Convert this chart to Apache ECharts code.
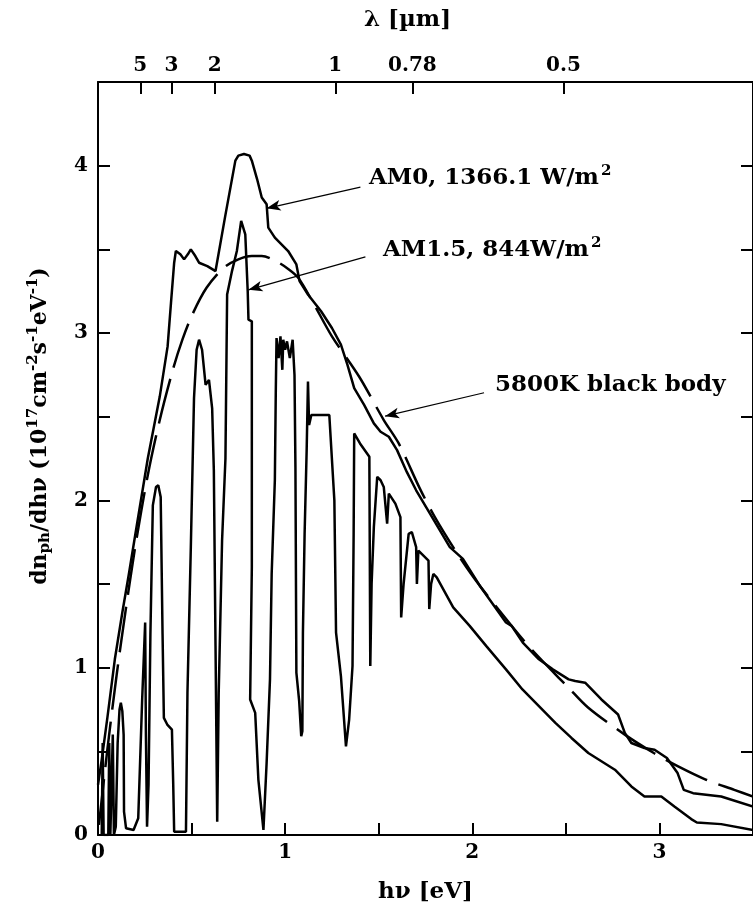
<!DOCTYPE html>
<html>
<head>
<meta charset="utf-8">
<script src="https://cdn.jsdelivr.net/npm/echarts@6.0.0/dist/echarts.min.js"></script>
<style>
html,body{margin:0;padding:0;background:#fff;}
#c{width:753px;height:909px;}
</style>
</head>
<body>
<div id="c"></div>
<script>
// ---- data (photon flux, 10^17 cm^-2 s^-1 eV^-1, vs photon energy in eV) ----
const am0E = [0,0.02,0.05,0.09,0.13,0.165,0.2,0.266,0.33,0.372,0.39,0.407,0.416,0.44,0.46,0.48,0.496,0.52,0.54,0.584,0.628,0.68,0.734,0.75,0.78,0.81,0.822,0.85,0.875,0.901,0.91,0.945,1.016,1.06,1.077,1.122,1.192,1.25,1.298,1.333,1.369,1.422,1.474,1.51,1.554,1.598,1.65,1.70,1.774,1.88,1.95,2.04,2.18,2.21,2.27,2.356,2.43,2.515,2.55,2.603,2.69,2.779,2.815,2.85,2.92,2.974,3.04,3.097,3.13,3.18,3.33,3.5];
const am0V = [0.30,0.45,0.70,1.05,1.33,1.56,1.80,2.25,2.62,2.92,3.18,3.42,3.49,3.47,3.44,3.47,3.50,3.46,3.42,3.40,3.37,3.70,4.03,4.06,4.07,4.06,4.03,3.92,3.81,3.77,3.63,3.57,3.49,3.41,3.31,3.23,3.13,3.03,2.93,2.81,2.67,2.57,2.46,2.41,2.38,2.30,2.17,2.06,1.92,1.72,1.65,1.49,1.27,1.25,1.15,1.05,0.99,0.93,0.92,0.91,0.81,0.72,0.61,0.55,0.52,0.51,0.46,0.37,0.27,0.25,0.23,0.17];

const am15E = [0.02,0.025,0.03,0.055,0.06,0.066,0.075,0.079,0.085,0.095,0.105,0.115,0.122,0.13,0.137,0.139,0.15,0.157,0.19,0.215,0.236,0.252,0.256,0.262,0.27,0.28,0.293,0.31,0.322,0.335,0.345,0.352,0.37,0.395,0.402,0.407,0.47,0.478,0.496,0.513,0.527,0.54,0.556,0.566,0.575,0.593,0.61,0.619,0.628,0.637,0.645,0.663,0.681,0.69,0.716,0.742,0.765,0.787,0.8,0.804,0.822,0.822,0.813,0.84,0.857,0.884,0.901,0.919,0.928,0.945,0.95,0.954,0.965,0.975,0.985,0.99,1.0,1.01,1.025,1.04,1.05,1.055,1.06,1.075,1.086,1.092,1.095,1.104,1.115,1.122,1.128,1.14,1.236,1.263,1.272,1.298,1.307,1.325,1.342,1.36,1.366,1.369,1.40,1.45,1.455,1.462,1.474,1.492,1.51,1.527,1.545,1.554,1.589,1.616,1.62,1.633,1.66,1.677,1.70,1.704,1.712,1.721,1.766,1.77,1.78,1.792,1.81,1.898,1.986,2.074,2.18,2.268,2.356,2.444,2.53,2.62,2.762,2.85,2.92,3.01,3.08,3.17,3.2,3.33,3.5];
const am15V = [0.0,0.55,0.0,0.0,0.55,0.0,0.0,0.6,0.0,0.05,0.55,0.75,0.79,0.74,0.6,0.14,0.04,0.03,0.03,0.1,0.81,1.27,0.6,0.05,0.3,1.2,1.97,2.08,2.09,2.02,1.2,0.7,0.66,0.63,0.3,0.02,0.02,0.85,1.72,2.61,2.9,2.96,2.9,2.89,2.69,2.72,2.55,2.18,1.13,0.08,0.85,1.76,2.25,3.23,3.37,3.49,3.67,3.59,3.25,3.08,3.07,1.6,0.81,0.73,0.33,0.03,0.43,0.93,1.56,2.12,2.65,2.97,2.85,2.98,2.78,2.96,2.9,2.95,2.85,2.96,2.75,2.2,0.97,0.8,0.59,0.62,1.21,1.80,2.3,2.71,2.45,2.51,2.51,2.0,1.21,0.95,0.81,0.53,0.69,1.01,1.8,2.4,2.34,2.26,1.01,1.5,1.84,2.14,2.12,2.08,1.86,2.04,1.98,1.90,1.30,1.5,1.80,1.81,1.72,1.50,1.70,1.70,1.64,1.35,1.5,1.56,1.54,1.36,1.25,1.13,0.99,0.87,0.77,0.67,0.58,0.49,0.39,0.29,0.23,0.23,0.17,0.095,0.075,0.065,0.03];

const bbE = [0.005,0.05,0.1,0.15,0.2,0.266,0.33,0.4,0.451,0.504,0.58,0.672,0.75,0.822,0.875,0.95,1.02,1.07,1.15,1.25,1.395,1.527,1.607,1.72,1.80,1.915,2.02,2.21,2.3,2.444,2.506,2.62,2.815,2.97,3.1,3.25,3.40,3.5];
const bbV = [0.06,0.51,0.96,1.36,1.73,2.15,2.48,2.78,2.96,3.11,3.27,3.39,3.44,3.46,3.46,3.43,3.38,3.33,3.18,2.98,2.74,2.48,2.34,2.07,1.90,1.69,1.52,1.25,1.13,0.96,0.89,0.76,0.60,0.49,0.41,0.33,0.27,0.23];

// top axis: wavelength tick labels (µm) and the photon energy (eV) where they sit
const lambdaLabels = ['5','3','2','1','0.78','0.5'];
const lambdaTickE = [0.226,0.392,0.623,1.268,1.680,2.487];

// annotation arrows [from(label end), to(curve)] in data coordinates
const arrowFrom = [[1.402,3.872],[1.429,3.455],[2.063,2.643]];
const arrowTo   = [[0.901,3.745],[0.804,3.258],[1.534,2.503]];

// ---- chart ----
const FONT = 'DejaVu Serif';
const zip = (a,b) => a.map((x,i) => [x,b[i]]);
const chart = echarts.init(document.getElementById('c'), null, {renderer:'canvas'});

const axisLineStyle = {color:'#000', width:2};
const labelStyle = {color:'#000', fontFamily:FONT, fontWeight:'bold', fontSize:20};
const intOnly = v => (Math.abs(v - Math.round(v)) < 1e-9 ? String(Math.round(v)) : '');

const lineStyle = {color:'#000', width:2.5};

chart.setOption({
  animation:false,
  backgroundColor:'#fff',
  grid:{left:98, top:82, right:-6, bottom:73, containLabel:false},
  xAxis:[{
    type:'value', min:0, max:3.5, interval:0.5, position:'bottom',
    axisLine:{show:true, onZero:false, lineStyle:axisLineStyle},
    axisTick:{show:true, inside:true, length:12, lineStyle:{color:'#000', width:2}},
    axisLabel:Object.assign({formatter:intOnly, margin:8, showMaxLabel:false}, labelStyle),
    splitLine:{show:false},
    name:'hν [eV]', nameLocation:'middle', nameGap:46,
    nameTextStyle:{color:'#000', fontFamily:FONT, fontWeight:'bold', fontSize:23}
  },{
    type:'value', min:0, max:3.5, position:'top',
    axisLine:{show:true, onZero:false, lineStyle:axisLineStyle},
    axisTick:{show:true, inside:true, length:12, customValues:lambdaTickE, lineStyle:{color:'#000', width:2}},
    axisLabel:Object.assign({
      customValues:lambdaTickE, margin:6,
      formatter:function(v){
        let best=0, d=1e9;
        lambdaTickE.forEach((e,i)=>{ if(Math.abs(e-v)<d){d=Math.abs(e-v);best=i;} });
        return lambdaLabels[best];
      }
    }, labelStyle),
    splitLine:{show:false},
    name:'λ [µm]', nameLocation:'middle', nameGap:50,
    nameTextStyle:{color:'#000', fontFamily:FONT, fontWeight:'bold', fontSize:23, padding:[0,36,0,0]}
  }],
  yAxis:[{
    type:'value', min:0, max:4.5, interval:0.5, position:'left',
    axisLine:{show:true, onZero:false, lineStyle:axisLineStyle},
    axisTick:{show:true, inside:true, length:12, lineStyle:{color:'#000', width:2}},
    axisLabel:Object.assign({formatter:intOnly, margin:10, showMaxLabel:false}, labelStyle),
    splitLine:{show:false}
  },{
    type:'value', min:0, max:4.5, interval:0.5, position:'right',
    axisLine:{show:true, onZero:false, lineStyle:axisLineStyle},
    axisTick:{show:true, inside:true, length:12, lineStyle:{color:'#000', width:2}},
    axisLabel:{show:false},
    splitLine:{show:false}
  }],
  series:[{
    name:'AM0', type:'line', xAxisIndex:0, yAxisIndex:0,
    data:zip(am0E, am0V), showSymbol:false, symbol:'none',
    lineStyle:lineStyle, clip:true,
    markLine:{
      silent:true, animation:false,
      symbol:['none','arrow'], symbolSize:[8,14],
      lineStyle:{color:'#000', width:1.2, type:'solid'},
      label:{show:false},
      data:arrowFrom.map((f,i)=>[{coord:f},{coord:arrowTo[i]}])
    }
  },{
    name:'AM1.5', type:'line', xAxisIndex:0, yAxisIndex:0,
    data:zip(am15E, am15V), showSymbol:false, symbol:'none',
    lineStyle:lineStyle, clip:true
  },{
    name:'5800K black body', type:'line', xAxisIndex:0, yAxisIndex:0,
    data:zip(bbE, bbV), showSymbol:false, symbol:'none', smooth:0.3,
    lineStyle:{color:'#000', width:2.5, type:[46,12]}, clip:true
  }],
  graphic:[{
    type:'text', x:40, y:426, rotation:Math.PI/2,
    style:{
      text:'{a|dn}{sub|ph}{a|/dhν (10}{sup|17}{a|cm}{sup|-2}{a|s}{sup|-1}{a|eV}{sup|-1}{a|)}',
      align:'center', verticalAlign:'middle',
      rich:{
        a:{fill:'#000', font:'bold 22px "DejaVu Serif"'},
        sub:{fill:'#000', font:'bold 15px "DejaVu Serif"', padding:[11,0,0,0]},
        sup:{fill:'#000', font:'bold 15px "DejaVu Serif"', padding:[0,0,13,0]}
      }
    }
  },{
    type:'text', left:369, top:164,
    style:{
      text:'{a|AM0, 1366.1 W/m}{s|2}',
      rich:{
        a:{fill:'#000', font:'bold 23px "DejaVu Serif"'},
        s:{fill:'#000', font:'bold 15px "DejaVu Serif"', padding:[0,0,14,2]}
      }
    }
  },{
    type:'text', left:383, top:236,
    style:{
      text:'{a|AM1.5, 844W/m}{s|2}',
      rich:{
        a:{fill:'#000', font:'bold 23px "DejaVu Serif"'},
        s:{fill:'#000', font:'bold 15px "DejaVu Serif"', padding:[0,0,14,2]}
      }
    }
  },{
    type:'text', left:495, top:374,
    style:{text:'5800K black body', fill:'#000', font:'bold 23px "DejaVu Serif"'}
  }]
});
</script>
</body>
</html>
